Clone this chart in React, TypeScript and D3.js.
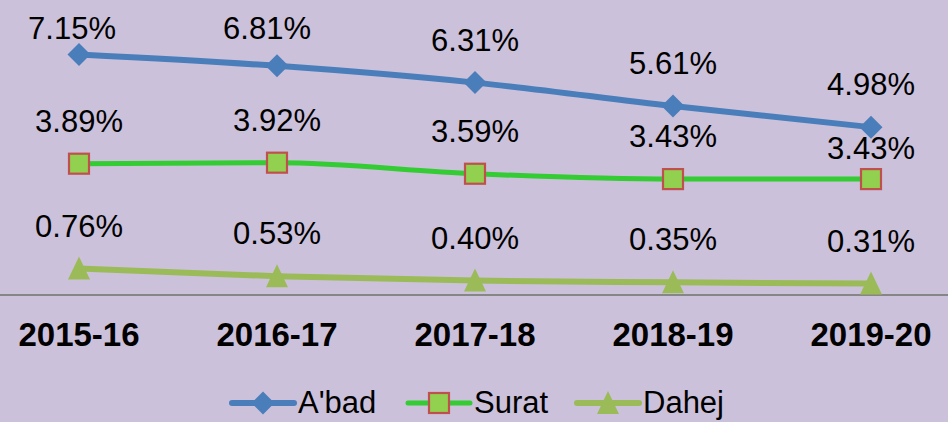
import React from "react";
import * as d3 from "d3";

const categories = ["2015-16", "2016-17", "2017-18", "2018-19", "2019-20"];
const abad = [7.15, 6.81, 6.31, 5.61, 4.98];
const surat = [3.89, 3.92, 3.59, 3.43, 3.43];
const dahej = [0.76, 0.53, 0.4, 0.35, 0.31];
const seriesNames = ["A'bad", "Surat", "Dahej"];

const W = 948;
const H = 422;
const BG = "#CCC1DA";
const FONT = "'Liberation Sans', Arial, sans-serif";

const x = d3.scalePoint<string>().domain(categories).range([79, 871]);
const y = d3.scaleLinear().domain([0, 8]).range([294, 26]);

type Series = {
  name: string;
  values: number[];
  color: string;
  width: number;
  marker: "diamond" | "square" | "triangle";
};

const series: Series[] = [
  { name: seriesNames[0], values: abad, color: "#4A7EBB", width: 6, marker: "diamond" },
  { name: seriesNames[1], values: surat, color: "#33CC33", width: 5, marker: "square" },
  { name: seriesNames[2], values: dahej, color: "#9BBB59", width: 6, marker: "triangle" },
];

function Marker({ kind, cx, cy, color }: { kind: string; cx: number; cy: number; color: string }) {
  if (kind === "diamond") {
    const r = 11.5;
    return <path d={`M${cx},${cy - r}L${cx + r},${cy}L${cx},${cy + r}L${cx - r},${cy}Z`} fill={color} />;
  }
  if (kind === "square") {
    const s = 20;
    return (
      <rect x={cx - s / 2} y={cy - s / 2} width={s} height={s} fill="#92D050" stroke="#C0504D" strokeWidth={2.2} />
    );
  }
  const hw = 11, top = 12, bot = 11;
  return <path d={`M${cx},${cy - top}L${cx + hw},${cy + bot}L${cx - hw},${cy + bot}Z`} fill={color} />;
}

export default function App() {
  const line = d3
    .line<number>()
    .x((_, i) => x(categories[i]) as number)
    .y((v) => y(v))
    .curve(d3.curveMonotoneX);

  const labelPos = (si: number, i: number, v: number) => {
    let by = y(v) - 32;
    if (by < 39) by = 39;
    // keep Surat's last label clear of the A'bad label above it
    if (si === 1 && i === categories.length - 1) by += 12;
    let dx = 0;
    if (si === 0 && i === 0) dx = -7;
    if (si === 0 && i === 1) dx = -10;
    return { bx: (x(categories[i]) as number) + dx, by };
  };

  const legendItems = [
    { s: series[0], lx: 232, tx: 298 },
    { s: series[1], lx: 408, tx: 474 },
    { s: series[2], lx: 577, tx: 643 },
  ];

  return (
    <svg
      width={W}
      height={H}
      style={{ position: "fixed", left: 0, top: 0, display: "block" }}
      fontFamily={FONT}
    >
      <rect x={0} y={0} width={W} height={H} fill={BG} />
      <line x1={0} x2={W} y1={295} y2={295} stroke="#868686" strokeWidth={2} />
      {series.map((s) => (
        <path key={s.name} d={line(s.values) || ""} fill="none" stroke={s.color} strokeWidth={s.width} strokeLinejoin="round" />
      ))}
      {series.map((s) =>
        s.values.map((v, i) => (
          <Marker key={s.name + i} kind={s.marker} cx={x(categories[i]) as number} cy={y(v)} color={s.color} />
        ))
      )}
      {series.map((s, si) =>
        s.values.map((v, i) => {
          const p = labelPos(si, i, v);
          return (
            <text key={"l" + s.name + i} x={p.bx} y={p.by} textAnchor="middle" fontSize={31} fill="#000">
              {v.toFixed(2) + "%"}
            </text>
          );
        })
      )}
      {categories.map((c) => (
        <text key={c} x={x(c) as number} y={346} textAnchor="middle" fontSize={33} fontWeight="bold" fill="#000">
          {c}
        </text>
      ))}
      {legendItems.map(({ s, lx, tx }) => (
        <g key={"lg" + s.name}>
          <line x1={lx} x2={lx + 62} y1={403} y2={403} stroke={s.color} strokeWidth={s.width} strokeLinecap="round" />
          <Marker kind={s.marker} cx={lx + 31} cy={403} color={s.color} />
          <text x={tx} y={413} fontSize={31} fill="#000">
            {s.name}
          </text>
        </g>
      ))}
    </svg>
  );
}
